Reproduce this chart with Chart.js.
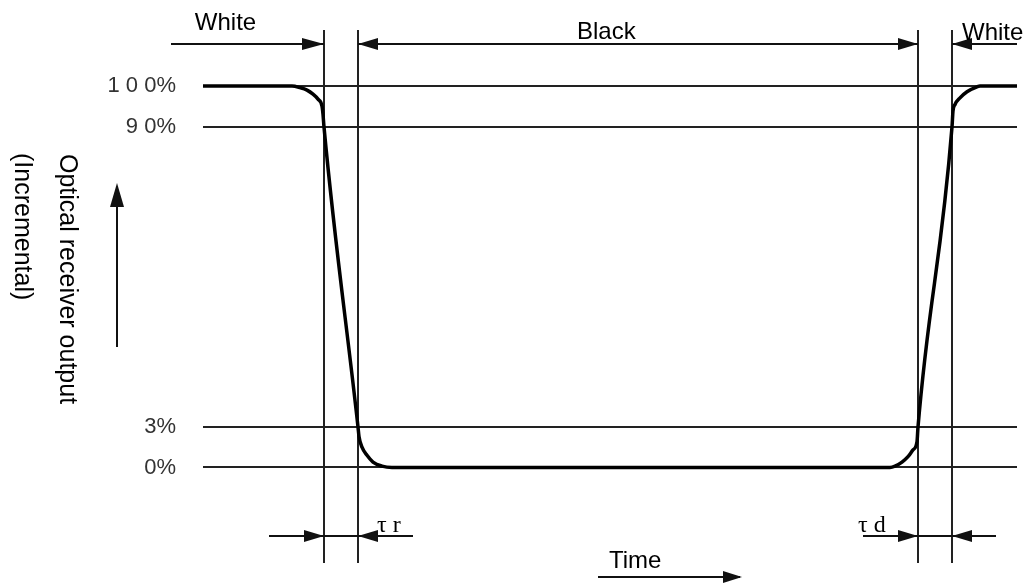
<!DOCTYPE html>
<html><head><meta charset="utf-8">
<script src="https://cdn.jsdelivr.net/npm/chart.js@4/dist/chart.umd.min.js"></script>
<style>html,body{margin:0;padding:0;background:#fff;} #wrap{width:1027px;height:584px;position:relative;}</style>
</head><body><div id="wrap"><canvas id="c"></canvas></div>
<script>
// ---- data (time in arbitrary units, output in % of full scale) ----
const timeValues    = [0, 89, 97, 104, 110, 115, 119, 120, 121, 155, 156, 159, 164, 170, 179, 189, 687, 692, 699, 705, 710, 714, 715, 749, 750, 752, 757, 764, 774, 777, 814];
const outputPercent = [100, 100, 99.6, 99.0, 98.0, 96.8, 95.1, 93.1, 90, 3, 2.3, 1.5, 0.9, 0.4, 0.1, 0, 0, 0.1, 0.4, 0.8, 1.3, 1.9, 3, 90, 93.9, 95.5, 97.1, 98.6, 99.8, 100, 100];
const levelTicks  = [0, 3, 90, 100];
const levelLabels = ['0%', '3%', '9 0%', '1 0 0%'];
const markerTimes = [121, 155, 715, 749];
const timeRange   = [0, 814];
const intervalLabels = ['White', 'Black', 'White'];
const responseLabels = ['\u03c4 r', '\u03c4 d'];
const yTitle = ['Optical receiver output', '(Incremental)'];
const xTitle = 'Time';

// ---- layout of the schematic (non-linear) output axis: [value, fraction of height from bottom] ----
const Y_STOPS = [[-7, 0], [0, 0.1792], [3, 0.2552], [90, 0.818], [100, 0.8949], [114, 1]];

class PiecewiseScale extends Chart.LinearScale {
  getPixelForValue(value) {
    if (value === null || value === undefined || isNaN(value)) return NaN;
    let i = 0;
    while (i < Y_STOPS.length - 2 && value > Y_STOPS[i + 1][0]) i++;
    const a = Y_STOPS[i], b = Y_STOPS[i + 1];
    return this.getPixelForDecimal(a[1] + (value - a[0]) * (b[1] - a[1]) / (b[0] - a[0]));
  }
  getValueForPixel(pixel) {
    const f = this.getDecimalForPixel(pixel);
    let i = 0;
    while (i < Y_STOPS.length - 2 && f > Y_STOPS[i + 1][1]) i++;
    const a = Y_STOPS[i], b = Y_STOPS[i + 1];
    return a[0] + (f - a[1]) * (b[0] - a[0]) / (b[1] - a[1]);
  }
}
PiecewiseScale.id = 'piecewise';
PiecewiseScale.defaults = Chart.LinearScale.defaults;
Chart.register(PiecewiseScale);

const INK = '#111';
const SANS = '"Liberation Sans", Arial, sans-serif';

const annotations = {
  id: 'annotations',
  beforeDraw(chart) {
    const c = chart.ctx;
    c.save(); c.fillStyle = '#fff'; c.fillRect(0, 0, chart.width, chart.height); c.restore();
  },
  afterDraw(chart) {
    const {ctx, chartArea: ca, scales: {x}} = chart;
    const X = t => x.getPixelForValue(t);
    const [m0, m1, m2, m3] = markerTimes;
    ctx.save();
    ctx.strokeStyle = INK; ctx.fillStyle = INK; ctx.lineWidth = 2;
    const hline = (x1, x2, yy) => { ctx.beginPath(); ctx.moveTo(x1, yy); ctx.lineTo(x2, yy); ctx.stroke(); };
    const head = (tip, yy, dir, L = 20, H = 6) => {
      ctx.beginPath(); ctx.moveTo(tip, yy); ctx.lineTo(tip - dir * L, yy - H); ctx.lineTo(tip - dir * L, yy + H); ctx.closePath(); ctx.fill();
    };
    const topY = ca.top + 14, botY = ca.bottom - 27, timeY = ca.bottom + 14;
    // top row: White | Black | White
    hline(X(-32), X(m0), topY); head(X(m0), topY, 1, 22);
    hline(X(m1), X(m2), topY); head(X(m1), topY, -1); head(X(m2), topY, 1);
    hline(X(m3), X(timeRange[1]), topY); head(X(m3), topY, -1);
    // bottom row: response times
    hline(X(66), X(210), botY); head(X(m0), botY, 1); head(X(m1), botY, -1);
    hline(X(660), X(793), botY); head(X(m2), botY, 1); head(X(m3), botY, -1);
    // time arrow
    hline(X(395), X(537), timeY); head(X(539), timeY, 1, 19, 6);
    // y arrow
    const ax = ca.left - 86;
    ctx.beginPath(); ctx.moveTo(ax, ca.top + 170); ctx.lineTo(ax, ca.top + 317); ctx.stroke();
    ctx.beginPath(); ctx.moveTo(ax, ca.top + 153); ctx.lineTo(ax - 7, ca.top + 177); ctx.lineTo(ax + 7, ca.top + 177); ctx.closePath(); ctx.fill();

    // texts
    ctx.fillStyle = '#000';
    ctx.textBaseline = 'alphabetic';
    ctx.font = '24px ' + SANS;
    ctx.textAlign = 'center';
    ctx.fillText(intervalLabels[0], X(22.5), ca.top - 0.5);
    ctx.textAlign = 'left';
    ctx.fillText(intervalLabels[1], X(374), topY - 5);
    ctx.fillText(intervalLabels[2], X(759), topY - 4);
    ctx.fillText(xTitle, X(406), ca.bottom + 5);
    ctx.font = '24px "Liberation Serif", "DejaVu Serif", serif';
    ctx.fillText(responseLabels[0], X(174), botY - 4);
    ctx.fillText(responseLabels[1], X(655), botY - 4);
    // rotated y title (reads top to bottom)
    ctx.font = '25px ' + SANS;
    ctx.translate(ca.left - 143, ca.top + 124);
    ctx.rotate(Math.PI / 2);
    ctx.fillText(yTitle[0], 0, 0);
    ctx.fillText(yTitle[1], -1, 45);
    ctx.restore();
  }
};

new Chart(document.getElementById('c'), {
  type: 'line',
  data: {
    datasets: [{
      data: timeValues.map((t, i) => ({x: t, y: outputPercent[i]})),
      borderColor: '#000',
      borderWidth: 3.5,
      pointRadius: 0,
      cubicInterpolationMode: 'monotone',
      fill: false
    }]
  },
  options: {
    responsive: true,
    maintainAspectRatio: false,
    animation: false,
    devicePixelRatio: 1,
    layout: {padding: {left: 0, right: 10, top: 30, bottom: 21}},
    plugins: {legend: {display: false}, tooltip: {enabled: false}},
    scales: {
      x: {
        type: 'linear', min: timeRange[0], max: timeRange[1],
        afterBuildTicks: s => { s.ticks = markerTimes.map(v => ({value: v})); },
        afterFit: s => { s.paddingLeft = 0; s.paddingRight = 0; s.height = 0; },
        ticks: {display: false},
        border: {display: false},
        grid: {color: '#222', lineWidth: 2, drawTicks: false}
      },
      y: {
        type: 'piecewise', min: -7, max: 114,
        afterBuildTicks: s => { s.ticks = levelTicks.map(v => ({value: v})); },
        afterFit: s => { s.width = 203; s.paddingTop = 0; s.paddingBottom = 0; },
        ticks: {
          callback: (v, i) => levelLabels[i],
          color: '#333',
          padding: 27,
          font: {family: SANS, size: 22}
        },
        border: {display: false},
        grid: {color: '#222', lineWidth: 2, drawTicks: false}
      }
    }
  },
  plugins: [annotations]
});
</script>
</body></html>
